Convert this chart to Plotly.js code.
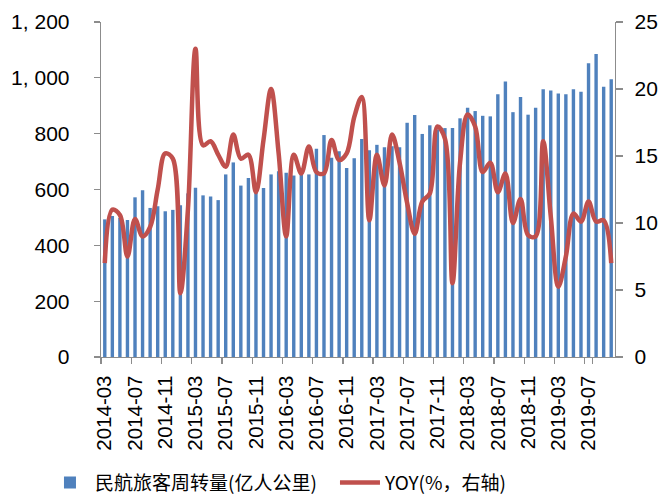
<!DOCTYPE html>
<html>
<head>
<meta charset="utf-8">
<script src="https://cdn.plot.ly/plotly-3.0.1.min.js"></script>
<style>html,body{margin:0;padding:0;background:#fff;}#chart{width:661px;height:498px;}</style>
</head>
<body>
<div id="chart"></div>
<script>
var months = [
  '2014-03','2014-04','2014-05','2014-06','2014-07','2014-08','2014-09','2014-10','2014-11','2014-12',
  '2015-01','2015-02','2015-03','2015-04','2015-05','2015-06','2015-07','2015-08','2015-09','2015-10','2015-11','2015-12',
  '2016-01','2016-02','2016-03','2016-04','2016-05','2016-06','2016-07','2016-08','2016-09','2016-10','2016-11','2016-12',
  '2017-01','2017-02','2017-03','2017-04','2017-05','2017-06','2017-07','2017-08','2017-09','2017-10','2017-11','2017-12',
  '2018-01','2018-02','2018-03','2018-04','2018-05','2018-06','2018-07','2018-08','2018-09','2018-10','2018-11','2018-12',
  '2019-01','2019-02','2019-03','2019-04','2019-05','2019-06','2019-07','2019-08','2019-09','2019-10'
];
var rpk = [
  493, 505, 498, 491, 572, 597, 534, 540, 522, 527,
  544, 586, 606, 579, 575, 562, 654, 697, 614, 641, 590, 605,
  654, 665, 660, 650, 652, 654, 746, 795, 714, 737, 677, 712,
  781, 741, 760, 751, 755, 751, 839, 867, 799, 830, 815, 820,
  820, 855, 893, 881, 864, 862, 941, 987, 877, 931, 868, 893,
  959, 955, 944, 941, 959, 950, 1052, 1085, 968, 995
];
var yoy = [
  7.0, 11.0, 10.6, 7.5, 10.3, 9.0, 9.7, 12.5, 15.2, 14.8,
  4.75, 11.0, 23.0, 15.8, 16.1, 15.1, 14.2, 16.6, 14.8, 15.1, 12.3, 16.2,
  20.0, 15.2, 9.0, 15.1, 13.7, 15.7, 13.8, 13.7, 16.2, 14.7, 15.2, 17.9,
  19.4, 10.2, 15.1, 12.8, 16.6, 14.5, 11.5, 9.2, 11.6, 12.2, 17.2, 16.3,
  5.5, 14.5, 18.1, 17.2, 13.8, 14.5, 12.3, 13.7, 10.0, 11.8, 9.1, 9.0,
  16.1, 10.5, 5.25, 7.5, 10.7, 10.1, 11.6, 10.1, 10.2, 7.0
];
var xTickLabels = ['2014-03','2014-07','2014-11','2015-03','2015-07','2015-11','2016-03','2016-07',
  '2016-11','2017-03','2017-07','2017-11','2018-03','2018-07','2018-11','2019-03','2019-07'];
var leftTickVals = [0, 200, 400, 600, 800, 1000, 1200];
var leftTickText = ['0', '200', '400', '600', '800', '1, 000', '1, 200'];
var rightTickVals = [0, 5, 10, 15, 20, 25];
var seriesNames = ['民航旅客周转量(亿人公里)', 'YOY(%，右轴)'];

var axisColor = '#8c8c8c';
var tickFont = {family: 'Liberation Sans, Arial, sans-serif', size: 21, color: '#000'};

var traces = [
  {
    type: 'bar', x: months, y: rpk, name: seriesNames[0],
    marker: {color: '#4F81BD'}, hoverinfo: 'skip'
  },
  {
    type: 'scatter', mode: 'lines', x: months, y: yoy, name: seriesNames[1], yaxis: 'y2',
    line: {color: '#C0504D', width: 4.5, shape: 'spline', smoothing: 1}, hoverinfo: 'skip'
  }
];

var layout = {
  width: 661, height: 498, autosize: false,
  margin: {l: 101, r: 46, t: 22, b: 141, pad: 0, autoexpand: false},
  paper_bgcolor: '#fff', plot_bgcolor: '#fff',
  bargap: 0.55,
  showlegend: true,
  legend: {
    orientation: 'h', x: -0.109, xanchor: 'left', y: -0.318, yanchor: 'top',
    font: {family: 'Noto Sans CJK SC, sans-serif', size: 19, color: '#000'},
    itemwidth: 40, entrywidth: 235, entrywidthmode: 'pixels',
    traceorder: 'normal', bgcolor: 'rgba(0,0,0,0)'
  },
  xaxis: {
    type: 'category', categoryorder: 'array', categoryarray: months,
    range: [-0.5, months.length - 0.5],
    tickmode: 'array', tickvals: xTickLabels, ticktext: xTickLabels,
    tickson: 'boundaries', automargin: false,
    ticks: 'outside', ticklen: 6, tickcolor: axisColor, tickwidth: 1.3,
    tickangle: -90, ticklabelstandoff: 9,
    tickfont: {family: 'Liberation Sans, Arial, sans-serif', size: 20.5, color: '#000'},
    showline: true, linecolor: axisColor, linewidth: 1.3,
    showgrid: false, zeroline: false, fixedrange: true
  },
  yaxis: {
    range: [0, 1200], tickmode: 'array', tickvals: leftTickVals, ticktext: leftTickText,
    automargin: false,
    ticks: 'outside', ticklen: 6, tickcolor: axisColor, tickwidth: 1.3,
    ticklabelstandoff: 20, tickfont: tickFont,
    showline: true, linecolor: axisColor, linewidth: 1.3,
    showgrid: false, zeroline: false, fixedrange: true
  },
  yaxis2: {
    overlaying: 'y', side: 'right', range: [0, 25], automargin: false,
    tickmode: 'array', tickvals: rightTickVals,
    ticks: 'outside', ticklen: 7, tickcolor: axisColor, tickwidth: 1.3,
    ticklabelstandoff: 7, tickfont: tickFont,
    showline: true, linecolor: axisColor, linewidth: 1.3,
    showgrid: false, zeroline: false, fixedrange: true
  }
};

Plotly.newPlot('chart', traces, layout, {staticPlot: true, displayModeBar: false});
</script>
</body>
</html>
